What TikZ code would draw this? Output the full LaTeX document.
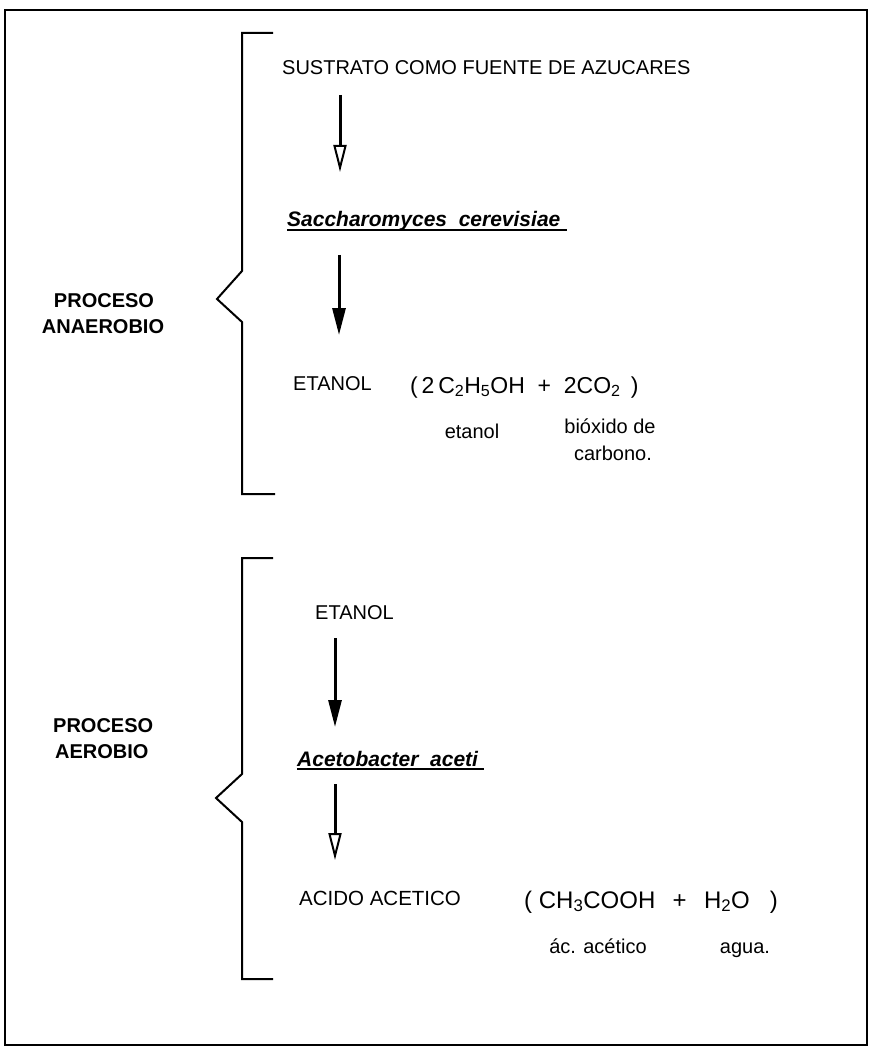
\documentclass[tikz,border=0pt]{standalone}
\usepackage{fontspec}
\setmainfont{Liberation Sans}
\usetikzlibrary{arrows.meta}
\begin{document}
\begin{tikzpicture}[x=1pt,y=-1pt,
  txt/.style={inner sep=0pt, anchor=base west, font=\fontsize{20}{24}\selectfont},
  ctxt/.style={inner sep=0pt, anchor=base, font=\fontsize{20}{24}\selectfont},
  form/.style={inner sep=0pt, anchor=base west, font=\fontsize{23}{27}\selectfont},
  lab/.style={inner sep=0pt, anchor=base, font=\fontsize{20}{24}\selectfont\bfseries},
  org/.style={inner sep=0pt, anchor=base west, font=\fontsize{21}{25}\selectfont\bfseries\itshape},
  uline/.style={line width=1.8pt},
  brk/.style={line width=2pt, line join=miter},
  flow/.style={line width=3pt, -{Triangle[length=27pt,width=13pt]}},
  flowopen/.style={line width=3pt, -{Triangle[open,fill=white,length=27pt,width=13pt,line width=2pt]}},
]
\useasboundingbox (0,0) rectangle (870,1048);
\fill[white] (0,0) rectangle (870,1048);
% frame
\draw[line width=2.5pt] (5,10) rectangle (867,1045);

% brackets
\draw[brk] (273,33) -- (242,33) -- (242,271) -- (217,299) -- (242,322) -- (242,494) -- (275,494);
\draw[brk] (273,558) -- (242,558) -- (242,774) -- (216,798) -- (242,822) -- (242,979) -- (273,979);

% side labels
\node[lab] (p1) at (104,307) {PROCESO};
\node[lab] (p2) at (103,333) {ANAEROBIO};
\node[lab, anchor=base west] (p3) at (53,732) {PROCESO};
\node[lab, anchor=base west] (p4) at (55,758) {AEROBIO};

% upper process
\node[txt] (sus) at (282,75) {SUSTRATO COMO FUENTE DE AZUCARES};
\coordinate (a1s) at (340,95);
\coordinate (a1e) at (340,172);
\draw[flowopen] (a1s) -- (a1e);
\node[org] (sac) at (287,227) {Saccharomyces\ \ cerevisiae};
\draw[uline] ([yshift=-3pt]sac.base west) -- ([xshift=6pt,yshift=-3pt]sac.base east);
\coordinate (a2s) at (339,255);
\coordinate (a2e) at (339,335);
\draw[flow] (a2s) -- (a2e);
\node[txt] (et1) at (293,390) {ETANOL};
\node[form] (f1) at (410,393) {(\,2\,C\textsubscript{2}H\textsubscript{5}OH\ \ +\ \ 2CO\textsubscript{2}\ \,)};
\node[ctxt] (et1n) at (472,438) {etanol};
\node[ctxt] (bio) at (610,433) {bióxido de};
\node[ctxt] (car) at (613,460) {carbono.};

% lower process
\node[txt] (et2) at (315,619) {ETANOL};
\coordinate (a3s) at (335,638);
\coordinate (a3e) at (335,727);
\draw[flow] (a3s) -- (a3e);
\node[org] (ace) at (297,766) {Acetobacter\ \ aceti};
\draw[uline] ([yshift=-3pt]ace.base west) -- ([xshift=6pt,yshift=-3pt]ace.base east);
\coordinate (a4s) at (335,784);
\coordinate (a4e) at (335,860);
\draw[flowopen] (a4s) -- (a4e);
\node[txt, font=\fontsize{20.5}{24}\selectfont] (aa) at (299,905) {ACIDO ACETICO};
\node[form, font=\fontsize{24}{28}\selectfont] (f2) at (524,908) {(\ CH\textsubscript{3}COOH\ \ \,+\ \ \,H\textsubscript{2}O\ \ \ )};
\node[ctxt] (aan) at (598,953) {ác. acético};
\node[ctxt] (agu) at (745,953) {agua.};
\end{tikzpicture}
\end{document}
